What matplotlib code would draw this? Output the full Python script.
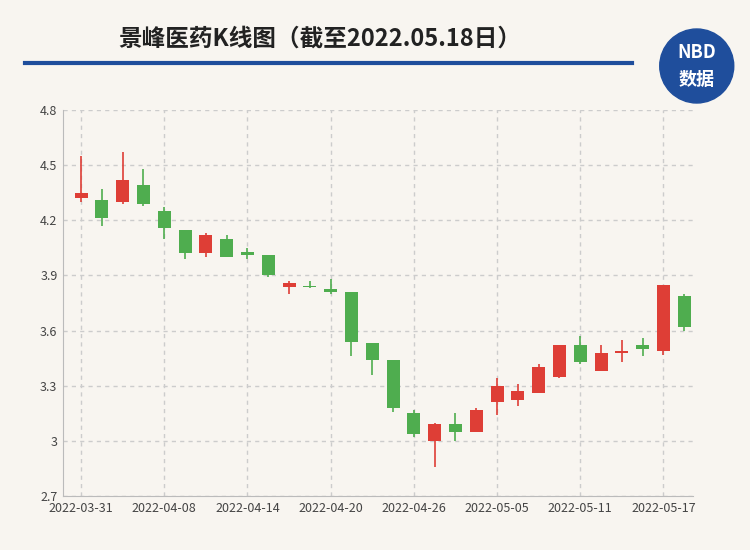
import matplotlib.pyplot as plt
from matplotlib.patches import Circle

plt.rcParams['font.family'] = ['Noto Sans CJK SC', 'DejaVu Sans']

dates = ['2022-03-31', '04-01', '04-06', '04-07', '2022-04-08', '04-11', '04-12', '04-13',
         '2022-04-14', '04-15', '04-18', '04-19', '2022-04-20', '04-21', '04-22', '04-25',
         '2022-04-26', '04-27', '04-28', '04-29', '2022-05-05', '05-06', '05-09', '05-10',
         '2022-05-11', '05-12', '05-13', '05-16', '2022-05-17', '05-18']
opens = [4.32, 4.31, 4.30, 4.39, 4.25, 4.15, 4.02, 4.10, 4.03, 4.01, 3.84, 3.84, 3.825, 3.81, 3.53,
         3.44, 3.15, 3.00, 3.09, 3.05, 3.21, 3.22, 3.26, 3.35, 3.52, 3.38, 3.48, 3.52, 3.49, 3.79]
highs = [4.55, 4.37, 4.57, 4.48, 4.27, 4.15, 4.13, 4.12, 4.05, 4.01, 3.87, 3.87, 3.88, 3.81, 3.53,
         3.44, 3.17, 3.10, 3.15, 3.18, 3.34, 3.31, 3.42, 3.52, 3.57, 3.52, 3.55, 3.56, 3.85, 3.80]
lows = [4.30, 4.17, 4.29, 4.28, 4.10, 3.99, 4.00, 4.00, 3.99, 3.89, 3.80, 3.83, 3.80, 3.46, 3.36,
        3.16, 3.02, 2.86, 3.00, 3.05, 3.14, 3.19, 3.26, 3.34, 3.42, 3.38, 3.43, 3.46, 3.47, 3.60]
closes = [4.35, 4.21, 4.42, 4.29, 4.16, 4.02, 4.12, 4.00, 4.01, 3.90, 3.86, 3.835, 3.81, 3.54, 3.44,
          3.18, 3.04, 3.09, 3.05, 3.17, 3.30, 3.27, 3.40, 3.52, 3.43, 3.48, 3.485, 3.50, 3.85, 3.62]
yticks = [2.7, 3.0, 3.3, 3.6, 3.9, 4.2, 4.5, 4.8]
ytick_labels = ['2.7', '3', '3.3', '3.6', '3.9', '4.2', '4.5', '4.8']

bg = '#f8f5f0'
up_color = '#de3e36'
down_color = '#4fad4f'

fig = plt.figure(figsize=(7.5, 5.5), dpi=100, facecolor=bg)
ax = fig.add_axes([0.084, 0.098, 0.84, 0.702], facecolor=bg)

for i in range(len(dates)):
    o, h, l, c = opens[i], highs[i], lows[i], closes[i]
    col = up_color if c >= o else down_color
    ax.vlines(i, l, h, color=col, linewidth=1.2, zorder=3)
    ax.bar(i, max(abs(c - o), 0.008), bottom=min(o, c), width=0.62, color=col, zorder=4)

tick_idx = list(range(0, len(dates), 4))
ax.set_xticks(tick_idx)
ax.set_xticklabels([dates[i] for i in tick_idx], fontsize=9, color='#444444')
ax.set_yticks(yticks)
ax.set_yticklabels(ytick_labels, fontsize=9, color='#444444')
ax.set_xlim(-0.87, 29.42)
ax.set_ylim(2.7, 4.8)
ax.grid(True, linestyle=(0, (3, 3)), color='#cccccc', linewidth=1)
ax.tick_params(length=0, pad=4)
for s in ['top', 'right']:
    ax.spines[s].set_visible(False)
for s in ['left', 'bottom']:
    ax.spines[s].set_color('#bbbbbb')

fig.text(0.427, 0.93, '景峰医药K线图（截至2022.05.18日）', ha='center', va='center',
         fontsize=17, fontweight='bold', color='#222222')
fig.add_artist(plt.Line2D([0.033, 0.843], [0.885, 0.885], color='#1f4e9c', linewidth=3))
logo = Circle((0.929 * 7.5, 0.88 * 5.5), 0.37, transform=fig.dpi_scale_trans, color='#1f4e9c')
fig.add_artist(logo)
fig.text(0.929, 0.905, 'NBD', ha='center', va='center', fontsize=13, fontweight='bold', color='white')
fig.text(0.929, 0.855, '数据', ha='center', va='center', fontsize=13, fontweight='bold', color='white')

plt.savefig('out.png', dpi=100, facecolor=bg)
